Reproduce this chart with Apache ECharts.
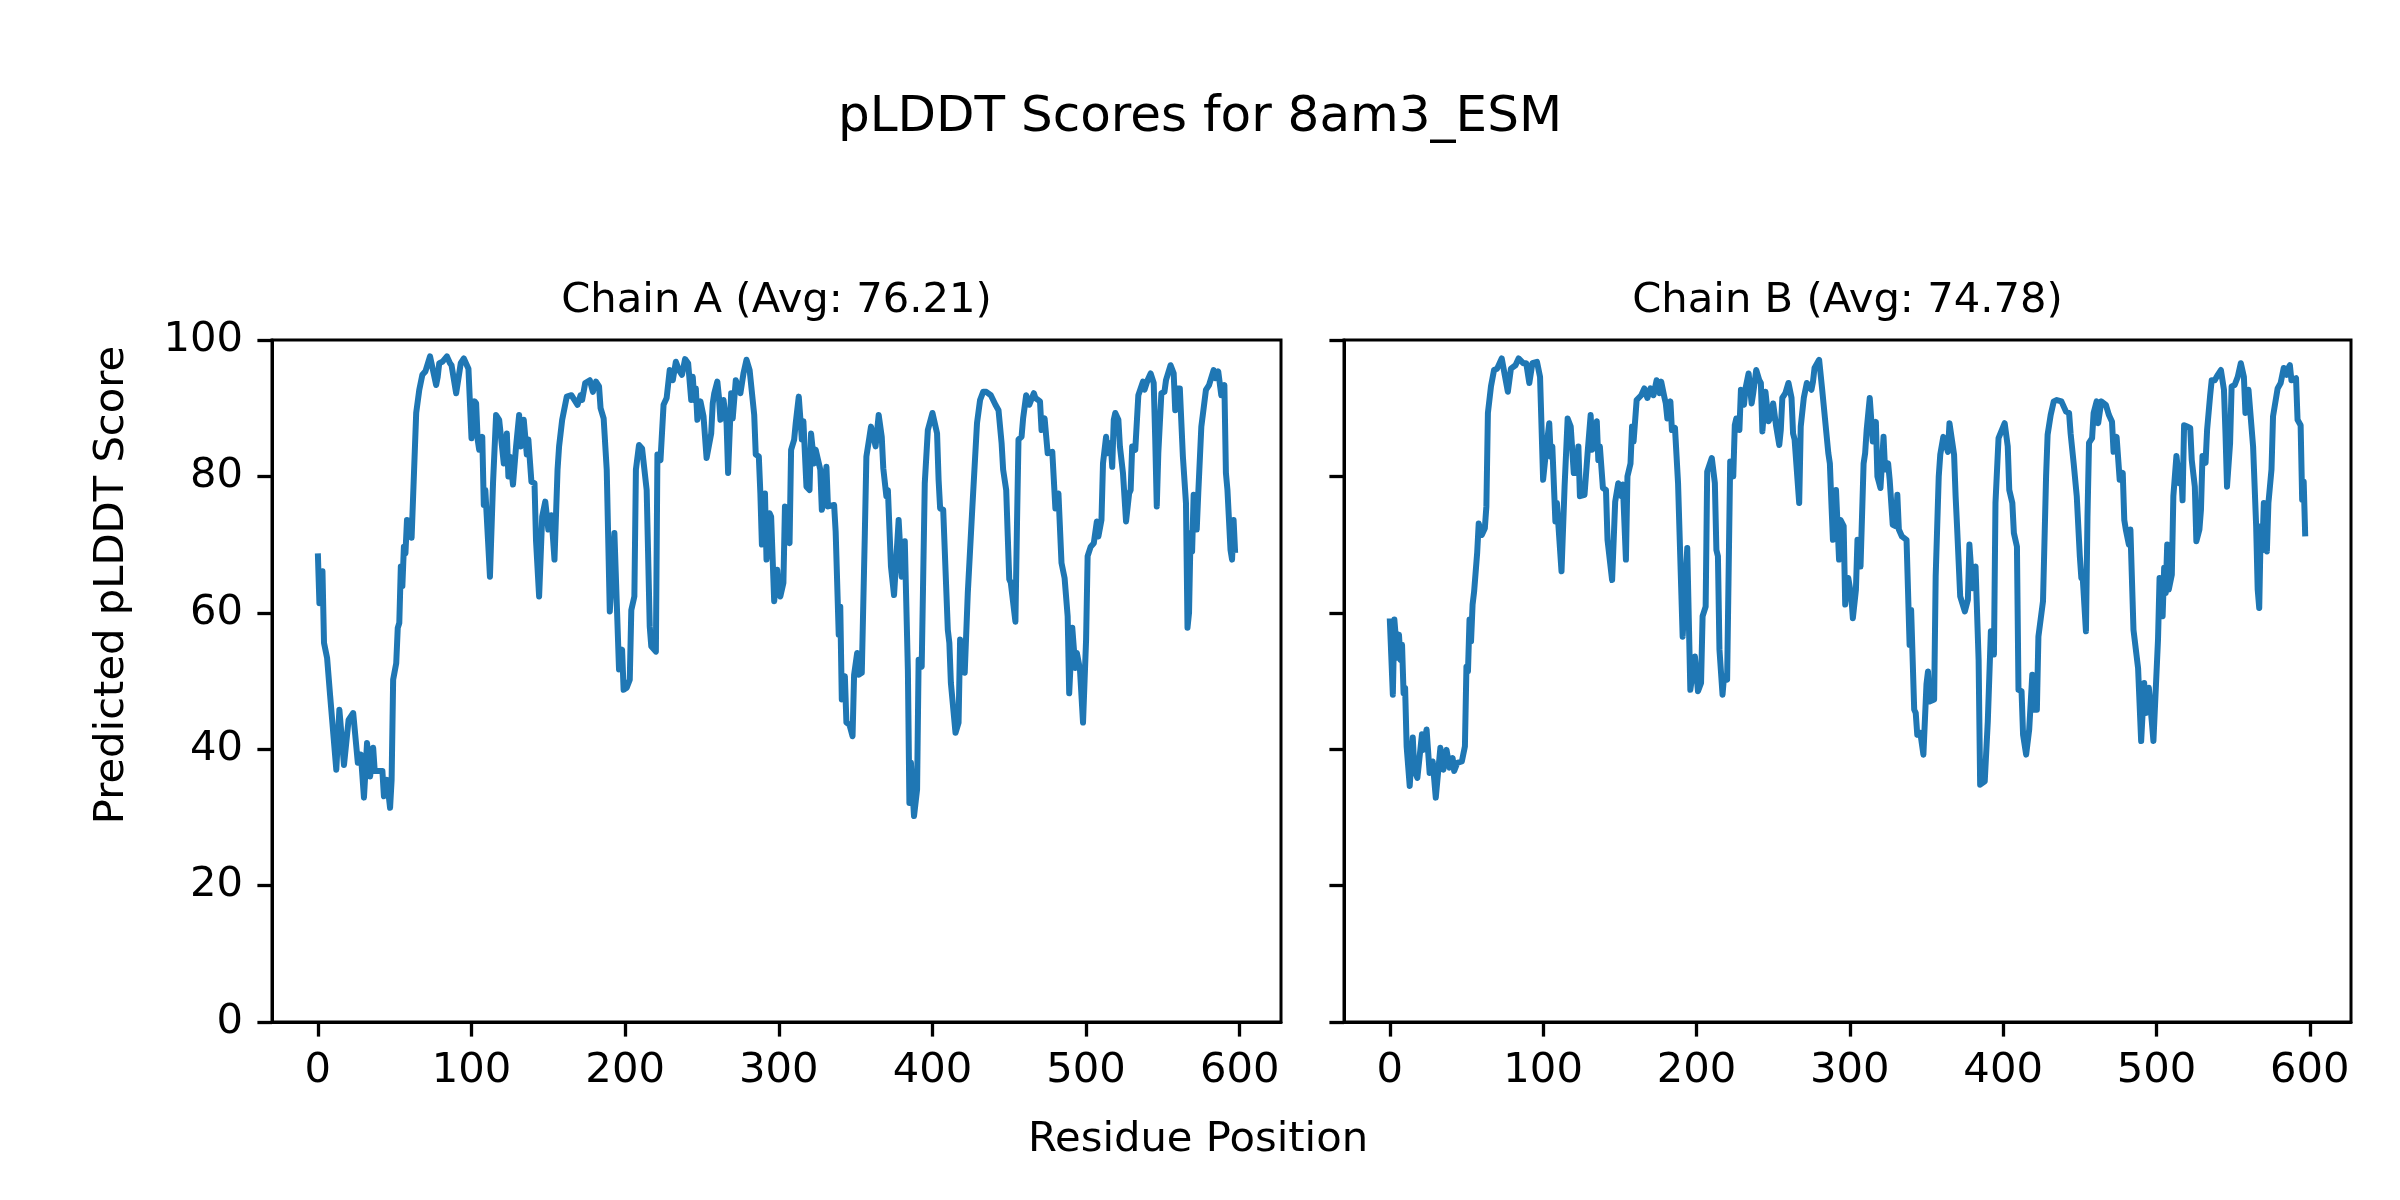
<!DOCTYPE html>
<html>
<head>
<meta charset="utf-8">
<script src="https://cdn.jsdelivr.net/npm/echarts@6/dist/echarts.min.js"></script>
<style>html,body{margin:0;padding:0;background:#fff}#chart{width:2400px;height:1200px}</style>
</head>
<body>
<div id="chart"></div>
<script>
const chartTitle = 'pLDDT Scores for 8am3_ESM';
const panelTitles = ['Chain A (Avg: 76.21)', 'Chain B (Avg: 74.78)'];
const xAxisLabel = 'Residue Position';
const yAxisLabel = 'Predicted pLDDT Score';
const xTicks = [0, 100, 200, 300, 400, 500, 600];

const chainAPos = [0,1,3,4,6,7,8,12,14,17,20,23,26,28,30,32,34,36,37,42,43,45,47,48,49,51,52,53,54,55,56,57,58,60,61,62,64,66,68,70,73,77,78,79,81,84,86,87,90,93,95,98,100,102,103,104,105,107,108,109,112,114,116,118,121,123,124,125,127,129,131,132,134,136,137,139,141,142,144,146,148,150,152,154,156,157,159,162,165,169,171,172,174,177,179,181,183,184,186,188,190,193,196,198,199,201,203,204,206,207,209,211,214,216,217,220,221,223,225,227,229,231,233,235,237,239,241,243,244,245,246,247,249,251,253,256,257,258,260,261,262,264,266,267,269,270,272,275,277,279,281,284,285,287,288,289,291,292,294,295,297,299,300,301,303,304,307,308,310,311,313,315,316,318,320,321,323,324,327,328,329,331,332,336,337,338,339,340,341,343,344,346,348,349,351,352,354,356,357,359,360,363,365,367,368,370,371,373,375,378,380,382,384,385,386,388,390,391,393,395,397,400,401,403,404,405,407,410,411,412,415,417,418,420,421,423,426,429,431,433,435,438,441,443,445,446,448,449,450,451,454,455,456,458,459,461,463,466,467,470,471,473,475,478,479,480,482,484,486,488,489,491,493,494,496,498,500,501,503,505,507,508,510,511,513,514,516,517,518,519,521,522,524,526,528,529,530,532,534,535,537,538,540,542,544,545,546,547,549,551,552,555,557,558,559,561,563,565,566,567,568,569,570,572,573,575,578,580,583,584,586,587,588,590,591,592,594,595,596,597];
const chainAScore = [68.7,61.4,66.1,55.6,53.4,53.2,47.8,37.0,45.8,37.7,44.3,45.3,38.0,39.2,32.9,40.9,36.0,40.2,36.8,36.8,33.1,35.5,31.4,35.5,50.2,52.6,57.8,58.5,66.8,63.9,69.7,68.7,73.6,73.4,71.0,71.0,89.3,92.7,94.9,95.4,97.6,93.4,94.6,96.6,96.8,97.6,96.6,96.3,92.2,96.6,97.3,95.8,85.6,91.0,90.7,85.4,83.9,85.8,75.8,78.0,65.3,79.0,89.0,88.3,81.9,86.3,80.0,82.9,78.8,84.4,89.0,84.4,88.3,83.2,85.4,79.2,79.0,70.5,62.4,74.1,76.3,72.2,74.3,67.8,81.0,84.4,88.3,91.7,91.9,90.5,91.9,91.2,93.7,94.1,92.4,93.9,93.2,90.0,88.5,81.0,60.2,71.7,51.7,54.6,48.7,49.0,50.2,60.4,62.4,81.0,84.6,84.1,78.0,58.0,55.1,54.3,83.2,82.4,90.5,91.5,95.6,94.1,96.8,95.6,94.9,97.2,96.6,91.2,94.6,91.2,92.9,88.3,91.0,88.8,82.7,86.3,90.7,92.2,93.9,91.7,88.3,91.2,87.8,80.5,92.2,88.5,94.1,92.2,95.1,97.1,95.6,89.0,83.2,82.9,77.5,70.0,77.5,67.8,74.6,74.1,61.7,66.3,62.9,62.4,64.4,75.6,70.2,83.9,85.4,87.8,91.7,85.4,88.1,78.5,78.0,86.3,81.9,83.9,81.0,75.1,76.1,81.4,75.6,75.8,71.9,71.7,56.8,60.9,47.3,50.7,43.9,43.6,41.9,50.9,54.1,50.9,51.2,71.7,82.9,85.8,87.3,84.4,89.0,85.8,81.2,77.1,78.0,66.8,62.6,73.6,65.3,70.5,51.7,32.1,38.0,30.2,34.1,53.1,52.1,79.0,86.8,89.3,89.5,86.3,79.5,75.3,75.1,57.5,55.6,49.7,42.4,43.9,56.1,52.1,51.2,62.9,75.6,87.8,91.2,92.4,92.4,91.9,90.5,89.7,84.9,81.0,78.0,71.3,64.9,64.4,58.7,72.7,85.4,85.8,88.5,91.9,90.5,92.2,91.5,91.0,86.8,88.5,83.4,83.6,79.5,75.3,77.5,67.3,65.1,59.5,48.2,57.8,51.9,54.1,51.7,43.9,56.1,68.3,69.7,70.2,73.4,71.2,73.6,81.9,85.8,83.4,84.9,81.4,88.3,89.3,88.3,84.4,80.5,73.4,77.5,78.0,84.4,83.9,91.9,91.7,93.9,92.7,94.1,95.1,93.7,85.4,75.6,83.4,92.2,92.4,94.1,96.3,95.1,89.7,92.9,92.9,82.9,76.1,57.8,60.0,71.7,69.0,77.3,72.2,77.5,87.3,92.7,93.4,95.6,94.4,95.4,95.4,91.9,93.4,80.5,78.0,69.2,67.8,73.6,68.8];

const chainBPos = [0,2,3,5,6,7,8,9,10,11,13,15,16,18,21,22,24,26,28,30,33,35,37,39,41,42,44,47,49,50,51,52,53,54,55,57,58,60,62,63,64,66,68,70,73,77,79,82,84,87,89,91,93,96,98,100,102,104,105,106,108,109,112,114,116,118,120,122,123,124,127,129,131,132,135,136,137,139,141,142,145,147,149,151,152,154,155,157,158,159,161,164,166,168,170,172,174,176,177,179,180,181,183,184,186,188,191,194,196,199,201,203,204,206,207,210,212,213,214,215,217,218,220,222,224,225,226,228,229,231,232,234,236,237,239,241,242,243,245,246,247,248,250,252,254,255,256,258,260,262,263,264,267,268,270,272,273,275,276,277,280,282,286,287,288,289,291,293,294,296,297,299,301,302,304,305,307,309,310,311,313,315,317,318,320,322,323,325,326,328,330,331,332,334,337,339,340,342,343,344,346,348,350,351,352,355,356,358,359,361,364,365,368,369,370,372,375,377,378,380,382,384,385,388,390,392,394,395,397,401,403,404,406,407,409,410,412,413,415,417,419,420,422,423,426,428,429,431,433,435,438,441,443,444,446,448,450,451,452,454,455,456,458,459,461,462,464,467,469,471,472,474,476,478,479,480,482,483,485,488,489,490,492,493,495,497,498,501,502,504,505,506,507,508,510,511,513,515,516,517,518,520,522,523,525,526,528,529,530,532,533,535,536,538,540,542,544,545,546,548,549,551,553,555,557,558,560,561,563,565,566,567,568,569,570,572,573,575,576,579,581,583,585,586,587,588,591,592,594,595,596,597];
const chainBScore = [59.2,48.0,59.0,53.4,56.8,53.1,55.3,48.2,49.0,40.4,34.6,41.7,37.0,35.8,42.2,39.9,42.9,36.5,38.2,32.9,40.2,37.0,39.9,37.3,38.7,36.8,38.0,38.2,40.4,52.1,51.4,59.0,55.8,61.2,63.1,68.8,73.1,71.4,72.4,75.6,89.3,93.2,95.6,95.8,97.3,92.4,95.8,96.3,97.3,96.6,96.6,93.7,96.6,96.8,94.6,79.5,83.9,87.8,82.9,84.4,73.4,76.1,66.1,78.5,88.5,87.3,80.5,80.5,84.4,77.1,77.3,83.4,89.0,83.9,88.1,82.4,84.4,78.3,78.0,70.7,64.8,76.3,79.0,77.1,78.8,67.8,80.0,81.9,87.3,85.1,91.2,91.9,92.9,91.5,92.9,91.9,94.1,92.2,93.9,91.7,90.7,88.5,91.0,86.8,87.1,79.0,56.5,69.5,48.7,53.6,48.5,49.7,59.5,60.9,80.7,82.7,79.0,69.2,68.3,54.6,48.0,50.7,50.2,82.2,80.0,87.5,88.5,86.8,92.7,90.5,92.9,95.1,90.7,92.2,95.6,94.1,93.7,86.6,92.4,92.4,88.1,88.5,90.7,87.3,84.6,86.8,91.5,92.2,93.7,91.5,86.3,85.4,76.1,87.3,91.5,93.7,93.5,92.7,93.9,95.9,97.1,92.7,83.4,81.9,76.1,70.7,78.0,67.8,73.6,72.7,61.2,65.1,62.4,59.2,63.4,70.7,66.8,81.9,83.4,86.8,91.5,85.1,88.0,80.0,78.3,85.8,81.0,81.9,79.5,72.9,72.7,77.3,72.2,71.2,70.7,55.3,60.4,45.8,45.3,42.1,42.4,39.2,49.5,51.4,47.0,47.3,65.3,80.0,83.2,85.8,83.6,87.8,83.2,77.1,72.4,62.4,60.2,61.9,70.0,63.6,66.8,53.1,34.8,35.3,44.1,57.3,53.9,76.1,85.6,87.8,84.4,78.0,76.1,71.7,69.7,48.7,48.5,42.1,39.2,42.9,50.9,45.8,45.8,56.5,61.7,80.0,86.1,89.0,91.0,91.2,91.0,89.5,89.3,86.3,81.9,77.1,68.3,65.1,64.8,57.3,74.1,84.9,85.6,89.3,91.0,87.8,91.0,90.5,89.0,88.0,83.6,85.8,79.5,80.5,73.6,72.2,70.0,72.2,57.5,51.9,51.9,41.2,49.7,45.3,49.0,43.9,41.2,56.1,65.1,59.5,66.6,62.9,70.0,63.4,65.6,77.1,83.0,79.0,81.4,76.5,87.5,87.3,87.1,82.4,78.5,70.5,72.2,75.1,83.0,82.0,86.8,91.9,94.1,94.1,94.9,95.6,92.7,86.3,78.5,84.9,93.2,93.4,94.6,96.6,94.6,89.3,92.7,92.7,84.4,72.7,63.4,60.7,72.7,69.2,76.1,69.0,76.1,81.0,88.8,92.9,93.7,95.9,94.9,95.9,96.3,94.1,94.4,88.3,87.5,76.6,79.2,71.2];

const FONT = 'DejaVu Sans';
const zip = (xs, ys) => xs.map((x, i) => [x, ys[i]]);

const chart = echarts.init(document.getElementById('chart'));

const grids = [
  {left: 272, top: 340, width: 1009, height: 682},
  {left: 1344, top: 340, width: 1007, height: 682}
];

function xAx(i) {
  return {
    gridIndex: i, type: 'value', min: -29.85, max: 626.85,
    splitLine: {show: false},
    axisLine: {show: true, onZero: false, lineStyle: {color: '#000', width: 3}},
    axisTick: {show: true, length: 14.6, lineStyle: {color: '#000', width: 3.3}, customValues: xTicks},
    axisLabel: {show: true, customValues: xTicks, fontSize: 41.7, color: '#000', fontFamily: FONT, margin: 28}
  };
}
function yAx(i, showLabel) {
  return {
    gridIndex: i, type: 'value', min: 0, max: 100, interval: 20,
    splitLine: {show: false},
    axisLine: {show: true, onZero: false, lineStyle: {color: '#000', width: 3}},
    axisTick: {show: true, length: 14.6, lineStyle: {color: '#000', width: 3.3}},
    axisLabel: {show: showLabel, fontSize: 41.7, color: '#000', fontFamily: FONT, margin: 29}
  };
}

function txt(text, x, y, size, rot) {
  return {
    type: 'text', x: x, y: y, rotation: rot || 0,
    style: {text: text, font: size + 'px "' + FONT + '"', fill: '#000', textAlign: 'center', textVerticalAlign: 'middle'}
  };
}

chart.setOption({
  animation: false,
  backgroundColor: '#fff',
  grid: grids.map(g => Object.assign({show: true, borderColor: '#000', borderWidth: 3, backgroundColor: 'transparent'}, g)),
  xAxis: [xAx(0), xAx(1)],
  yAxis: [yAx(0, true), yAx(1, false)],
  series: [
    {type: 'line', xAxisIndex: 0, yAxisIndex: 0, data: zip(chainAPos, chainAScore), showSymbol: false, symbol: 'none',
     lineStyle: {color: '#1f77b4', width: 6, join: 'round'}},
    {type: 'line', xAxisIndex: 1, yAxisIndex: 1, data: zip(chainBPos, chainBScore), showSymbol: false, symbol: 'none',
     lineStyle: {color: '#1f77b4', width: 6, join: 'round'}}
  ],
  graphic: [
    txt(chartTitle, 1200, 118, 50),
    txt(panelTitles[0], 776.5, 301, 41.7),
    txt(panelTitles[1], 1847.5, 301, 41.7),
    txt(xAxisLabel, 1198, 1140, 41.7),
    txt(yAxisLabel, 112, 585, 41.7, Math.PI / 2)
  ]
});
</script>
</body>
</html>
